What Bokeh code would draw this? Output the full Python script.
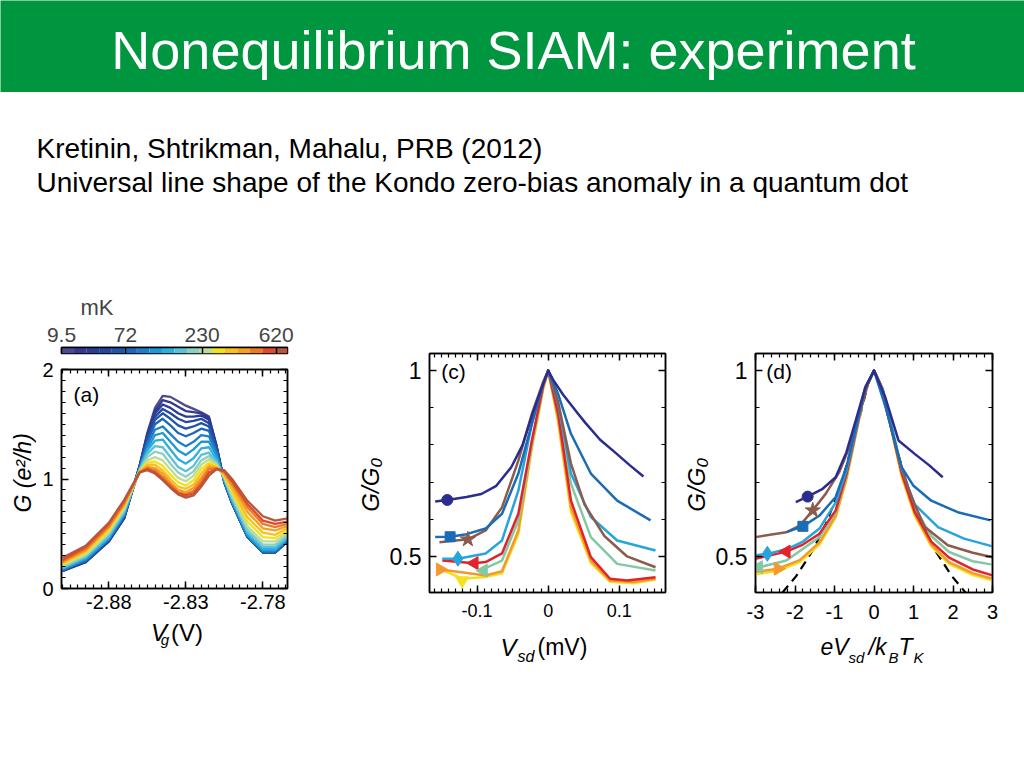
import numpy as np
from bokeh.plotting import figure
from bokeh.models import Label, FixedTicker, CustomJSTickFormatter, LinearAxis, Range1d
from bokeh.layouts import column, row
from bokeh.embed import file_html
from bokeh.resources import INLINE

FONT = "Liberation Sans"

# ------------------------------------------------------------------ texts
title_text = "Nonequilibrium SIAM: experiment"
cite_line1 = "Kretinin, Shtrikman, Mahalu, PRB (2012)"
cite_line2 = "Universal line shape of the Kondo zero-bias anomaly in a quantum dot"

# ------------------------------------------------------------------ panel (a): G vs Vg, 18 temperatures (coldest first)
vg = [-2.910, -2.895, -2.880, -2.870, -2.860, -2.855, -2.850, -2.845, -2.840, -2.835, -2.830,
      -2.825, -2.820, -2.815, -2.810, -2.805, -2.800, -2.790, -2.780, -2.772, -2.764]
g_a_00 = [0.16, 0.24, 0.43, 0.64, 1.12, 1.42, 1.65, 1.76, 1.75, 1.71, 1.67, 1.64, 1.61, 1.57, 1.30, 0.97, 0.78, 0.47, 0.33, 0.33, 0.43]
g_a_01 = [0.16, 0.24, 0.43, 0.64, 1.12, 1.41, 1.62, 1.72, 1.70, 1.66, 1.62, 1.61, 1.60, 1.56, 1.30, 0.97, 0.78, 0.47, 0.33, 0.33, 0.43]
g_a_02 = [0.16, 0.25, 0.43, 0.65, 1.12, 1.40, 1.60, 1.68, 1.65, 1.60, 1.57, 1.57, 1.58, 1.54, 1.29, 0.97, 0.78, 0.47, 0.33, 0.33, 0.43]
g_a_03 = [0.16, 0.25, 0.44, 0.65, 1.11, 1.38, 1.57, 1.64, 1.60, 1.55, 1.52, 1.53, 1.55, 1.51, 1.28, 0.97, 0.78, 0.47, 0.33, 0.33, 0.43]
g_a_04 = [0.17, 0.25, 0.44, 0.66, 1.11, 1.36, 1.54, 1.60, 1.55, 1.49, 1.46, 1.48, 1.51, 1.48, 1.27, 0.97, 0.78, 0.47, 0.33, 0.34, 0.44]
g_a_05 = [0.17, 0.26, 0.45, 0.66, 1.10, 1.34, 1.50, 1.55, 1.49, 1.42, 1.39, 1.42, 1.46, 1.44, 1.25, 0.97, 0.79, 0.47, 0.33, 0.34, 0.44]
g_a_06 = [0.17, 0.26, 0.45, 0.67, 1.10, 1.31, 1.45, 1.48, 1.41, 1.34, 1.30, 1.34, 1.40, 1.39, 1.23, 0.98, 0.79, 0.48, 0.34, 0.34, 0.45]
g_a_07 = [0.18, 0.27, 0.46, 0.68, 1.09, 1.28, 1.40, 1.42, 1.34, 1.26, 1.22, 1.27, 1.34, 1.34, 1.21, 0.99, 0.80, 0.49, 0.35, 0.35, 0.45]
g_a_08 = [0.18, 0.28, 0.47, 0.69, 1.09, 1.26, 1.35, 1.36, 1.27, 1.18, 1.14, 1.19, 1.28, 1.29, 1.18, 1.00, 0.81, 0.50, 0.36, 0.36, 0.46]
g_a_09 = [0.19, 0.29, 0.48, 0.70, 1.08, 1.23, 1.30, 1.29, 1.20, 1.11, 1.07, 1.12, 1.22, 1.24, 1.16, 1.00, 0.82, 0.52, 0.38, 0.38, 0.47]
g_a_10 = [0.20, 0.30, 0.50, 0.72, 1.08, 1.20, 1.25, 1.23, 1.14, 1.06, 1.02, 1.07, 1.17, 1.21, 1.14, 1.01, 0.84, 0.54, 0.40, 0.40, 0.49]
g_a_11 = [0.21, 0.31, 0.51, 0.73, 1.07, 1.17, 1.20, 1.17, 1.09, 1.01, 0.98, 1.03, 1.13, 1.18, 1.13, 1.02, 0.86, 0.57, 0.43, 0.43, 0.51]
g_a_12 = [0.22, 0.33, 0.53, 0.75, 1.07, 1.15, 1.16, 1.12, 1.04, 0.97, 0.94, 0.99, 1.09, 1.15, 1.12, 1.03, 0.89, 0.61, 0.47, 0.46, 0.53]
g_a_13 = [0.23, 0.34, 0.55, 0.76, 1.07, 1.13, 1.13, 1.08, 1.00, 0.93, 0.91, 0.95, 1.05, 1.13, 1.11, 1.04, 0.91, 0.65, 0.51, 0.49, 0.55]
g_a_14 = [0.24, 0.35, 0.56, 0.77, 1.06, 1.11, 1.10, 1.05, 0.97, 0.90, 0.88, 0.92, 1.01, 1.11, 1.10, 1.05, 0.94, 0.70, 0.55, 0.53, 0.57]
g_a_15 = [0.25, 0.36, 0.57, 0.78, 1.06, 1.10, 1.08, 1.02, 0.95, 0.88, 0.86, 0.89, 0.98, 1.09, 1.10, 1.06, 0.96, 0.74, 0.59, 0.56, 0.59]
g_a_16 = [0.26, 0.38, 0.59, 0.80, 1.06, 1.09, 1.06, 1.00, 0.93, 0.87, 0.85, 0.87, 0.95, 1.06, 1.09, 1.07, 0.98, 0.77, 0.62, 0.59, 0.61]
g_a_17 = [0.28, 0.39, 0.60, 0.81, 1.06, 1.08, 1.05, 0.99, 0.92, 0.86, 0.83, 0.85, 0.93, 1.03, 1.09, 1.08, 1.00, 0.80, 0.66, 0.62, 0.64]
g_a_curves = [g_a_00, g_a_01, g_a_02, g_a_03, g_a_04, g_a_05, g_a_06, g_a_07, g_a_08,
              g_a_09, g_a_10, g_a_11, g_a_12, g_a_13, g_a_14, g_a_15, g_a_16, g_a_17]
temp_colors = ["#4a4a8c", "#363790", "#2b3c96", "#25469f", "#2054a9", "#1f66b5", "#1d80c6", "#1e98d4",
               "#2eaedd", "#5cc1d8", "#8dcfc1", "#bcdc98", "#f4e01f", "#f8c021", "#f4a023", "#ed7a26",
               "#df4a2a", "#b5573f"]
cbar_tick_labels = ["9.5", "72", "230", "620"]
cbar_tick_index = [0.0, 5.1, 11.2, 17.1]

# ------------------------------------------------------------------ panel (c): G/G0 vs Vsd (mV)
c_navy_v = [-0.159, -0.142, -0.115, -0.094, -0.073, -0.052, -0.036, -0.021, -0.007, 0.0, 0.007, 0.021, 0.042, 0.052, 0.073, 0.094, 0.115, 0.134]
c_navy_g = [0.648, 0.652, 0.660, 0.668, 0.690, 0.740, 0.800, 0.890, 0.965, 1.0, 0.975, 0.935, 0.884, 0.860, 0.814, 0.780, 0.745, 0.715]
c_blue_v = [-0.159, -0.138, -0.115, -0.088, -0.065, -0.042, -0.023, -0.007, 0.0, 0.014, 0.032, 0.060, 0.097, 0.144]
c_blue_g = [0.552, 0.553, 0.560, 0.575, 0.615, 0.723, 0.857, 0.965, 1.0, 0.937, 0.830, 0.723, 0.650, 0.597]
c_brown_v = [-0.153, -0.113, -0.088, -0.065, -0.042, -0.023, -0.007, 0.0, 0.014, 0.032, 0.051, 0.079, 0.111, 0.151]
c_brown_g = [0.538, 0.546, 0.570, 0.632, 0.758, 0.884, 0.970, 1.0, 0.915, 0.750, 0.640, 0.555, 0.500, 0.471]
c_lblue_v = [-0.149, -0.127, -0.088, -0.065, -0.042, -0.023, -0.007, 0.0, 0.014, 0.032, 0.060, 0.097, 0.151]
c_lblue_g = [0.494, 0.494, 0.508, 0.543, 0.677, 0.857, 0.965, 1.0, 0.910, 0.723, 0.606, 0.543, 0.516]
c_red_v = [-0.149, -0.104, -0.088, -0.065, -0.042, -0.023, -0.007, 0.0, 0.014, 0.032, 0.060, 0.087, 0.111, 0.151]
c_red_g = [0.489, 0.482, 0.485, 0.508, 0.615, 0.812, 0.960, 1.0, 0.884, 0.650, 0.498, 0.440, 0.435, 0.444]
c_green_v = [-0.096, -0.065, -0.042, -0.023, -0.007, 0.0, 0.014, 0.032, 0.060, 0.097, 0.151]
c_green_g = [0.462, 0.489, 0.597, 0.800, 0.960, 1.0, 0.884, 0.696, 0.552, 0.480, 0.462]
c_orange_v = [-0.152, -0.125, -0.088, -0.065, -0.042, -0.023, -0.007, 0.0, 0.014, 0.032, 0.060, 0.087, 0.120, 0.151]
c_orange_g = [0.465, 0.458, 0.449, 0.460, 0.570, 0.800, 0.955, 1.0, 0.870, 0.632, 0.489, 0.435, 0.431, 0.440]
c_yellow_v = [-0.156, -0.121, -0.088, -0.065, -0.042, -0.023, -0.007, 0.0, 0.014, 0.032, 0.060, 0.087, 0.120, 0.151]
c_yellow_g = [0.470, 0.440, 0.445, 0.455, 0.560, 0.790, 0.950, 1.0, 0.860, 0.620, 0.482, 0.432, 0.428, 0.438]
c_marker_v = [-0.142, -0.138, -0.113, -0.127, -0.104, -0.091, -0.152, -0.121]
c_marker_g = [0.652, 0.553, 0.546, 0.494, 0.482, 0.462, 0.465, 0.435]

# ------------------------------------------------------------------ panel (d): G/G0 vs eVsd/kBTK
d_navy_x = [-1.98, -1.68, -1.30, -0.97, -0.70, -0.45, -0.22, 0.0, 0.28, 0.62, 1.03, 1.40, 1.74]
d_navy_g = [0.646, 0.661, 0.682, 0.713, 0.780, 0.870, 0.955, 1.0, 0.930, 0.812, 0.776, 0.745, 0.713]
d_blue_x = [-2.20, -1.80, -1.38, -0.97, -0.70, -0.45, -0.22, 0.0, 0.30, 0.70, 1.00, 1.45, 2.12, 2.95]
d_blue_g = [0.566, 0.581, 0.610, 0.660, 0.740, 0.850, 0.955, 1.0, 0.900, 0.740, 0.690, 0.650, 0.619, 0.597]
d_brown_x = [-3.0, -2.22, -1.88, -1.55, -1.22, -0.88, -0.60, -0.35, -0.15, 0.0, 0.15, 0.35, 0.60, 0.88, 1.03, 1.28, 1.87, 2.50, 3.0]
d_brown_g = [0.552, 0.565, 0.583, 0.624, 0.669, 0.727, 0.800, 0.890, 0.965, 1.0, 0.965, 0.880, 0.775, 0.680, 0.640, 0.580, 0.530, 0.510, 0.498]
d_lblue_x = [-3.0, -2.70, -2.20, -1.80, -1.38, -0.97, -0.70, -0.45, -0.22, 0.0, 0.22, 0.45, 0.70, 1.03, 1.62, 2.28, 3.0]
d_lblue_g = [0.503, 0.507, 0.520, 0.540, 0.575, 0.645, 0.730, 0.845, 0.950, 1.0, 0.950, 0.850, 0.735, 0.640, 0.579, 0.548, 0.527]
d_red_x = [-3.0, -2.22, -1.80, -1.38, -0.97, -0.70, -0.45, -0.22, 0.0, 0.22, 0.45, 0.70, 1.03, 1.45, 1.90, 2.50, 3.0]
d_red_g = [0.494, 0.513, 0.532, 0.561, 0.624, 0.720, 0.840, 0.950, 1.0, 0.950, 0.840, 0.725, 0.620, 0.540, 0.497, 0.465, 0.449]
d_green_x = [-3.0, -2.90, -2.22, -1.38, -0.97, -0.70, -0.45, -0.22, 0.0, 0.22, 0.45, 0.70, 1.03, 1.45, 1.90, 2.50, 3.0]
d_green_g = [0.470, 0.471, 0.489, 0.552, 0.620, 0.715, 0.840, 0.950, 1.0, 0.950, 0.840, 0.730, 0.630, 0.555, 0.512, 0.487, 0.478]
d_orange_x = [-3.0, -2.43, -1.88, -1.38, -0.97, -0.70, -0.45, -0.22, 0.0, 0.22, 0.45, 0.70, 1.03, 1.45, 1.90, 2.50, 3.0]
d_orange_g = [0.458, 0.467, 0.490, 0.538, 0.610, 0.710, 0.835, 0.950, 1.0, 0.950, 0.840, 0.720, 0.615, 0.532, 0.485, 0.455, 0.440]
d_yellow_x = [-3.0, -2.43, -1.88, -1.38, -0.97, -0.70, -0.45, -0.22, 0.0, 0.22, 0.45, 0.70, 1.03, 1.45, 1.90, 2.50, 3.0]
d_yellow_g = [0.452, 0.461, 0.485, 0.532, 0.605, 0.705, 0.832, 0.948, 1.0, 0.948, 0.835, 0.715, 0.610, 0.528, 0.480, 0.450, 0.436]
d_marker_x = [-1.68, -1.80, -1.55, -2.70, -2.22, -2.92, -2.43]
d_marker_g = [0.661, 0.581, 0.624, 0.507, 0.513, 0.471, 0.467]
d_dash_x = [-2.60, -2.34, -1.97, -1.55, -1.22, -0.88, -0.60, -0.35, -0.15, 0.0, 0.15, 0.35, 0.60, 0.88, 1.22, 1.55, 1.97, 2.34, 2.60]
d_dash_g = [0.375, 0.400, 0.447, 0.516, 0.588, 0.677, 0.780, 0.880, 0.965, 1.0, 0.965, 0.880, 0.780, 0.677, 0.588, 0.516, 0.447, 0.400, 0.375]

series_colors = ["#2b2d8e", "#1a6cb5", "#8c5b4c", "#28a4dc", "#e3232a", "#84c8a4", "#f29a2e", "#f6df1d"]

# ------------------------------------------------------------------ helpers
GREEN = "#00963f"
EMPTY = CustomJSTickFormatter(code="return ''")
NUMFMT = CustomJSTickFormatter(code="return String(Math.round(tick*1000)/1000)")
MID = 0.35  # distance (in em) between the alphabetic baseline and the middle of a text line


def blank_fig(x0, x1, y_top, y_bot, bg="white"):
    """A figure without axes whose data coordinates are page pixels."""
    p = figure(width=int(x1 - x0), height=int(y_bot - y_top), x_range=Range1d(x0, x1),
               y_range=Range1d(y_bot, y_top), toolbar_location=None, output_backend="svg",
               x_axis_location=None, y_axis_location=None, min_border=0,
               background_fill_color=bg, border_fill_color=bg, outline_line_color=None)
    p.grid.visible = False
    return p


def put(p, x, baseline, text, size, style="normal", align="left", color="black"):
    p.add_layout(Label(x=x, y=baseline - MID * size, text=text, text_font=FONT,
                       text_font_size=f"{size}px", text_font_style=style, text_align=align,
                       text_baseline="middle", text_color=color))


def put_vertical(p, cx, cy, text, size, style="italic"):
    p.add_layout(Label(x=cx, y=cy, text=text, text_font=FONT, text_font_size=f"{size}px",
                       text_font_style=style, text_align="center", text_baseline="middle",
                       text_color="black", angle=np.pi / 2))


def base_fig(w, h, xr, yr, bl, br, bt, bb):
    p = figure(width=w, height=h, x_range=Range1d(*xr), y_range=Range1d(*yr), toolbar_location=None,
               output_backend="svg", min_border_left=bl, min_border_right=br,
               min_border_top=bt, min_border_bottom=bb, background_fill_color="white",
               border_fill_color="white")
    p.grid.visible = False
    p.outline_line_color = "black"
    p.outline_line_width = 1.5
    return p


def style_axis(ax, fs, standoff, labels=True):
    ax.major_tick_in = 7
    ax.major_tick_out = 0
    ax.minor_tick_in = 4
    ax.minor_tick_out = 0
    ax.major_tick_line_width = 1.5
    ax.minor_tick_line_width = 1.2
    ax.major_tick_line_color = "black"
    ax.minor_tick_line_color = "black"
    ax.axis_line_width = 1.5
    ax.axis_line_color = "black"
    ax.major_label_text_font = FONT
    ax.major_label_text_font_size = f"{fs}px"
    ax.major_label_text_color = "black"
    ax.major_label_standoff = standoff
    ax.formatter = NUMFMT if labels else EMPTY


def box_axes(p, xt, xm, yt, ym, xfs, yfs, xso, yso):
    xtick = FixedTicker(ticks=xt, minor_ticks=xm)
    ytick = FixedTicker(ticks=yt, minor_ticks=ym)
    p.xaxis.ticker = xtick
    p.yaxis.ticker = ytick
    style_axis(p.xaxis[0], xfs, xso)
    style_axis(p.yaxis[0], yfs, yso)
    top = LinearAxis(ticker=xtick)
    style_axis(top, 1, 0, labels=False)
    p.add_layout(top, "above")
    right = LinearAxis(ticker=ytick)
    style_axis(right, 1, 0, labels=False)
    p.add_layout(right, "right")


def to_data(frame, xr, yr, px, py):
    l, t, r, b = frame
    x = xr[0] + (px - l) / (r - l) * (xr[1] - xr[0])
    y = yr[0] + (b - py) / (b - t) * (yr[1] - yr[0])
    return x, y


def tag(p, frame, xr, yr, px, pcy, text, size):
    x, y = to_data(frame, xr, yr, px, pcy)
    p.add_layout(Label(x=x, y=y, text=text, text_font=FONT, text_font_size=f"{size}px",
                       text_align="left", text_baseline="middle", text_color="black"))


# ------------------------------------------------------------------ header + citation
header = blank_fig(0, 1024, 0, 92, bg=GREEN)
put(header, 513, 68, title_text, 54, align="center", color="white")

textfig = blank_fig(0, 1024, 92, 280)
put(textfig, 36, 158, cite_line1, 28)
put(textfig, 36, 192, cite_line2, 28)

# ------------------------------------------------------------------ colour bar (page x 0..351, y 280..355)
ncol = len(temp_colors)
cb = figure(width=351, height=75, x_range=Range1d(0, ncol), y_range=Range1d(0, 1), toolbar_location=None,
            output_backend="svg", x_axis_location="above", y_axis_location=None,
            min_border_left=61, min_border_right=64, min_border_top=67, min_border_bottom=2,
            title="mK")
cb.grid.visible = False
cb.outline_line_color = "black"
cb.outline_line_width = 1.5
idx = np.arange(ncol)
cb.quad(left=idx, right=idx + 1, bottom=0, top=1, fill_color=temp_colors, line_color=None)
cax = cb.xaxis[0]
cax.ticker = FixedTicker(ticks=cbar_tick_index)
cax.formatter = CustomJSTickFormatter(args=dict(pos=cbar_tick_index, labels=cbar_tick_labels),
                                      code="const i = pos.findIndex(q => Math.abs(q - tick) < 1e-6); return i >= 0 ? labels[i] : '';")
cax.major_tick_in = 6
cax.major_tick_out = 0
cax.minor_tick_line_color = None
cax.major_tick_line_width = 1.5
cax.axis_line_width = 1.5
cax.major_label_text_font = FONT
cax.major_label_text_font_size = "21px"
cax.major_label_standoff = 6
cb.title.text_font = FONT
cb.title.text_font_size = "22px"
cb.title.text_font_style = "normal"
cb.title.align = "left"
cb.title.offset = 19

# ------------------------------------------------------------------ panel (a)   (page x 36..351, y 355..620)
A_FRAME = (61, 369, 287, 588)
A_XR = (-2.9107, -2.764)
A_YR = (0.0, 2.0)
pa = base_fig(315, 265, A_XR, A_YR, 25, 64, 14, 32)
box_axes(pa, [-2.88, -2.83, -2.78], list(np.round(np.arange(-2.910, -2.762, 0.005), 3)),
         [0, 1, 2], list(np.round(np.arange(0, 2.01, 0.1), 2)), 20, 20, 6, 8)
for k, g in enumerate(g_a_curves):
    pa.line(vg, g, line_color=temp_colors[k], line_width=2.3, line_join="round")
tag(pa, A_FRAME, A_XR, A_YR, 73, 393.5, "(a)", 21)

ylab_a = blank_fig(0, 36, 355, 620)
put_vertical(ylab_a, 22, 480, "G (e²/h)", 23)

strip_a = blank_fig(0, 351, 620, 660)
put(strip_a, 139, 640, "V", 24, "italic")
put(strip_a, 154, 644, "g", 15, "italic")
put(strip_a, 170, 640, "(V)", 24)

# ------------------------------------------------------------------ panels (c) and (d)
GY = (0.403, 1.046)
gy_minor = [0.4, 0.5, 0.6, 0.7, 0.8, 0.9, 1.0]


def draw_series(p, xs, gs, mx, mg):
    for i in list(range(len(xs)))[::-1]:
        p.line(xs[i], gs[i], line_color=series_colors[i], line_width=2.5, line_join="round")
    specs = [("circle", 11, 0.0), ("square", 10, 0.0), ("star", 16, 0.0), ("diamond", 15, 0.0),
             ("triangle", 13, np.pi / 2), ("triangle", 13, np.pi / 2), ("triangle", 13, -np.pi / 2),
             ("inverted_triangle", 13, 0.0)]
    for i in range(len(mx)):
        m, s, a = specs[i]
        p.scatter([mx[i]], [mg[i]], marker=m, size=s, angle=a, fill_color=series_colors[i],
                  line_color=series_colors[i])


# (c): y label strip page x 351..386, panel 386..680
C_FRAME = (426, 353, 665, 592)
C_XR = (-0.167, 0.165)
pc = base_fig(294, 350, C_XR, GY, 40, 15, 73, 38)
box_axes(pc, [-0.1, 0.0, 0.1], list(np.round(np.arange(-0.16, 0.161, 0.01), 2)),
         [0.5, 1.0], gy_minor, 18, 23, 11, 8)
draw_series(pc,
            [c_navy_v, c_blue_v, c_brown_v, c_lblue_v, c_red_v, c_green_v, c_orange_v, c_yellow_v],
            [c_navy_g, c_blue_g, c_brown_g, c_lblue_g, c_red_g, c_green_g, c_orange_g, c_yellow_g],
            c_marker_v, c_marker_g)
tag(pc, C_FRAME, C_XR, GY, 438, 370.5, "(c)", 21)

ylab_c = blank_fig(351, 386, 280, 630)
put_vertical(ylab_c, 370, 472, "G/G₀", 24)

strip_c = blank_fig(351, 680, 630, 675)
put(strip_c, 500, 655, "V", 24, "italic")
put(strip_c, 517, 662, "sd", 16, "italic")
put(strip_c, 537, 655, "(mV)", 23)

# (d): y label strip page x 680..712, panel 712..1024
D_FRAME = (752, 353, 992, 592)
D_XR = (-3.0, 3.0)
pd_ = base_fig(312, 350, D_XR, GY, 40, 32, 73, 38)
box_axes(pd_, [-3, -2, -1, 0, 1, 2, 3], list(np.round(np.arange(-3.0, 3.01, 0.2), 1)),
         [0.5, 1.0], gy_minor, 20, 23, 12, 8)
pd_.line(d_dash_x, d_dash_g, line_color="black", line_width=2.2, line_dash="9 6")
draw_series(pd_,
            [d_navy_x, d_blue_x, d_brown_x, d_lblue_x, d_red_x, d_green_x, d_orange_x, d_yellow_x],
            [d_navy_g, d_blue_g, d_brown_g, d_lblue_g, d_red_g, d_green_g, d_orange_g, d_yellow_g],
            d_marker_x, d_marker_g)
tag(pd_, D_FRAME, D_XR, GY, 763, 370.5, "(d)", 21)

ylab_d = blank_fig(680, 712, 280, 630)
put_vertical(ylab_d, 696, 472, "G/G₀", 24)

strip_d = blank_fig(680, 1024, 630, 675)
put(strip_d, 820, 655, "eV", 23, "italic")
put(strip_d, 848, 662, "sd", 15, "italic")
put(strip_d, 868, 655, "/k", 23, "italic")
put(strip_d, 888, 662, "B", 15, "italic")
put(strip_d, 898, 655, "T", 23, "italic")
put(strip_d, 913, 662, "K", 15, "italic")

col_a = column(cb, row(ylab_a, pa), strip_a)
col_c = column(row(ylab_c, pc), strip_c)
col_d = column(row(ylab_d, pd_), strip_d)
layout = column(header, textfig, row(col_a, col_c, col_d))

with open("out.html", "w") as f:
    f.write(file_html(layout, INLINE, title="Nonequilibrium SIAM: experiment"))
